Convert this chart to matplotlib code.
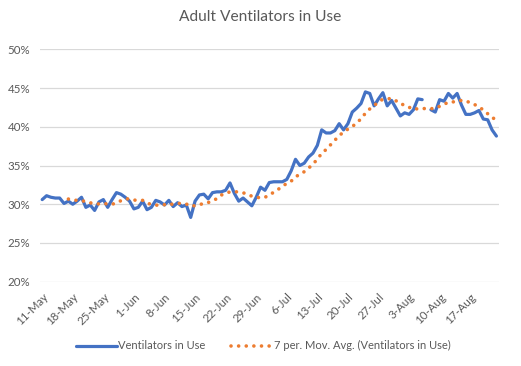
import numpy as np
import pandas as pd
import matplotlib
matplotlib.use("Agg")
import matplotlib.pyplot as plt

# daily share of adult ventilators in use (%), 11-May .. 23-Aug, one missing day
start_date = "2020-05-11"
ventilators_pct = [
    30.6, 31.1, 30.9, 30.8, 30.8, 30.1, 30.4, 30.0, 30.4, 30.9,
    29.6, 29.9, 29.2, 30.3, 30.6, 29.6, 30.6, 31.5, 31.3, 30.9,
    30.4, 29.4, 29.6, 30.4, 29.3, 29.6, 30.5, 30.3, 29.9, 30.5,
    29.7, 30.2, 29.7, 29.9, 28.3, 30.4, 31.2, 31.3, 30.7, 31.5,
    31.6, 31.6, 31.8, 32.75, 31.4, 30.4, 30.8, 30.3, 29.8, 30.9,
    32.2, 31.8, 32.8, 32.9, 32.9, 32.9, 33.2, 34.3, 35.8, 35.0,
    35.3, 36.1, 36.6, 37.6, 39.6, 39.2, 39.2, 39.5, 40.4, 39.6,
    40.4, 41.9, 42.4, 43.0, 44.5, 44.3, 42.7, 43.6, 44.4, 42.7,
    43.4, 42.4, 41.4, 41.8, 41.6, 42.2, 43.6, 43.5, np.nan, 42.2,
    41.9, 43.5, 43.3, 44.3, 43.7, 44.3, 42.8, 41.6, 41.6, 41.8,
    42.1, 41.0, 40.9, 39.6, 38.8,
]
tick_labels = ["11-May", "18-May", "25-May", "1-Jun", "8-Jun", "15-Jun", "22-Jun",
               "29-Jun", "6-Jul", "13-Jul", "20-Jul", "27-Jul", "3-Aug", "10-Aug", "17-Aug"]
y_ticks = [20, 25, 30, 35, 40, 45, 50]

BLUE = "#4472C4"
ORANGE = "#ED7D31"
GREY = "#595959"

plt.rcParams["font.family"] = ["Lato", "DejaVu Sans"]

dates = pd.date_range(start_date, periods=len(ventilators_pct), freq="D")
series = pd.Series(ventilators_pct, index=dates)
avail = series.dropna()
moving_avg = avail.rolling(7).mean().dropna()

days = (series.index - dates[0]).days
ma_days = (moving_avg.index - dates[0]).days

fig = plt.figure(figsize=(5.21, 3.66), dpi=100)
ax = fig.add_axes([0.0768, 0.2303, 0.8802, 0.6350])

ax.plot(days, series.values, color=BLUE, lw=2.3, solid_capstyle="round",
        solid_joinstyle="round", label="Ventilators in Use", zorder=3)
ax.plot(ma_days, moving_avg.values, color=ORANGE, lw=2.6, linestyle=(0, (0.01, 2.1)),
        dash_capstyle="round", label="7 per. Mov. Avg. (Ventilators in Use)", zorder=4)

ax.set_xlim(-0.5, len(ventilators_pct) - 0.5)
ax.set_ylim(20, 50)
ax.set_yticks(y_ticks)
ax.set_yticklabels([f"{v}%" for v in y_ticks])
ax.set_xticks(np.arange(0, 7 * len(tick_labels), 7))
ax.set_xticklabels(tick_labels, rotation=45, ha="right", rotation_mode="anchor")

ax.grid(axis="y", color="#D9D9D9", lw=0.9)
ax.set_axisbelow(True)
for s in ax.spines.values():
    s.set_visible(False)
ax.tick_params(length=0, labelsize=8.3, labelcolor=GREY)
ax.tick_params(axis="x", pad=7)
ax.tick_params(axis="y", pad=7)

fig.suptitle("Adult Ventilators in Use", x=0.5, y=0.972, fontsize=11.2, color=GREY)

fig.legend(loc="center", bbox_to_anchor=(0.505, 0.055), ncol=2, frameon=False,
           fontsize=8, labelcolor=GREY, handlelength=3.7, handletextpad=0.15,
           columnspacing=2.3)

fig.savefig("out.png", dpi=100)
